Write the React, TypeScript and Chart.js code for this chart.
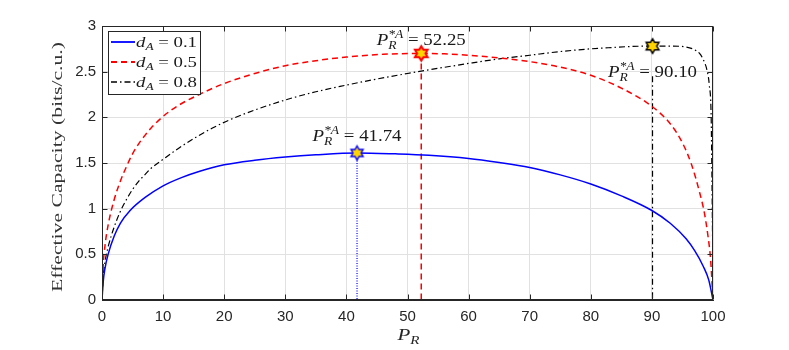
import React, { useEffect, useRef } from 'react';
import { Chart, registerables } from 'chart.js';

Chart.register(...registerables);

// ---------- data ----------
const blueX = [0, 0.2, 0.5, 1, 2, 3, 4.6, 7, 10, 13, 16, 20, 25, 30, 35, 41.74, 48, 53.5, 60, 65, 70, 75, 80, 85, 90, 93, 95.6, 97, 98.4, 99.3, 100];
const blueY = [0, 0.2, 0.35, 0.5, 0.7, 0.84, 0.98, 1.12, 1.25, 1.34, 1.41, 1.48, 1.53, 1.565, 1.59, 1.61, 1.6, 1.585, 1.55, 1.505, 1.45, 1.37, 1.27, 1.14, 0.98, 0.84, 0.67, 0.54, 0.37, 0.22, 0];

const redX = [0, 0.2, 0.5, 1, 2, 3, 4, 5, 6, 7, 8, 10, 12.5, 15.6, 20, 25, 30, 35, 40, 46, 52.25, 56, 60, 65, 70, 75, 80, 85, 90, 93, 95, 96.5, 97.8, 98.6, 99.2, 99.6, 100];
const redY = [0, 0.38, 0.6, 0.82, 1.1, 1.3, 1.46, 1.6, 1.71, 1.8, 1.88, 2.01, 2.13, 2.24, 2.37, 2.48, 2.565, 2.62, 2.66, 2.69, 2.7, 2.695, 2.68, 2.65, 2.61, 2.55, 2.46, 2.32, 2.12, 1.93, 1.72, 1.48, 1.18, 0.95, 0.69, 0.45, 0];

const blackX = [0, 0.2, 0.5, 1, 2, 3, 4, 5, 6, 7, 8, 10, 12.5, 15.6, 18, 20.8, 25, 30, 35, 39.8, 45, 50, 53.5, 60, 65, 70, 75, 80, 83.6, 86.3, 90.1, 93, 95.6, 97, 97.8, 98.5, 99, 99.4, 99.7, 99.85, 99.95, 100];
const blackY = [0, 0.25, 0.42, 0.58, 0.8, 0.97, 1.1, 1.21, 1.3, 1.37, 1.44, 1.54, 1.66, 1.79, 1.88, 1.97, 2.08, 2.19, 2.28, 2.35, 2.42, 2.48, 2.52, 2.59, 2.64, 2.68, 2.72, 2.75, 2.765, 2.775, 2.78, 2.78, 2.77, 2.74, 2.7, 2.62, 2.52, 2.35, 2.0, 1.2, 0.5, 0];

const legendValues = ['0.1', '0.5', '0.8'];
const peakX = [41.74, 52.25, 90.1];
const peakY = [1.61, 2.7, 2.78];
const blackStemTop = 2.45;

const xTitle = 'P';
const xTitleSub = 'R';
const yTitle = 'Effective Capacity (bits/c.u.)';

// ---------- styles ----------
const BLUE = '#0000ff';
const RED = '#ff0000';
const BLACK = '#000000';
const AXIS = '#262626';
const GRID = '#e1e1e1';
const STAR_FILL = '#ffd400';
const SERIF = '"Liberation Serif", "DejaVu Serif", serif';
const SANS = '"Liberation Sans", Arial, sans-serif';

const seriesStyles = [
  { color: BLUE, dash: [] as number[], width: 1.5 },
  { color: RED, dash: [6, 4], width: 1.5 },
  { color: BLACK, dash: [6, 3, 1.5, 3], width: 1.2 },
];

const pts = (xs: number[], ys: number[]) => xs.map((x, i) => ({ x, y: ys[i] }));

function makeStar(stroke: string, R: number, lw: number) {
  const size = Math.ceil(2 * R + 2 * lw + 2);
  const c = document.createElement('canvas');
  c.width = size;
  c.height = size;
  const g = c.getContext('2d')!;
  const cx = size / 2;
  const cy = size / 2;
  const r = R / Math.sqrt(3);
  g.beginPath();
  for (let k = 0; k < 12; k++) {
    const a = -Math.PI / 2 + (k * Math.PI) / 6;
    const rr = k % 2 === 0 ? R : r;
    g.lineTo(cx + rr * Math.cos(a), cy + rr * Math.sin(a));
  }
  g.closePath();
  g.fillStyle = STAR_FILL;
  g.fill();
  g.lineWidth = lw;
  g.strokeStyle = stroke;
  g.lineJoin = 'miter';
  g.stroke();
  return c;
}

type Seg = { t: string; italic?: boolean; size: number; dy: number; stack?: boolean };

function fontOf(s: Seg) {
  return `${s.italic ? 'italic ' : ''}${s.size}px ${SERIF}`;
}

function drawMath(ctx: CanvasRenderingContext2D, segs: Seg[], x: number, y: number, targetW: number, align: 'left' | 'center') {
  const placed: { s: Seg; x: number }[] = [];
  let cx = 0;
  for (let i = 0; i < segs.length; i++) {
    const s = segs[i];
    ctx.font = fontOf(s);
    let w = ctx.measureText(s.t).width;
    placed.push({ s, x: cx });
    const n = segs[i + 1];
    if (n && n.stack) {
      ctx.font = fontOf(n);
      w = Math.max(w, ctx.measureText(n.t).width);
      placed.push({ s: n, x: cx });
      i++;
    }
    cx += w;
  }
  const sx = targetW / cx;
  ctx.save();
  ctx.translate(align === 'center' ? x - targetW / 2 : x, y);
  ctx.scale(sx, 1);
  ctx.textAlign = 'left';
  ctx.textBaseline = 'alphabetic';
  for (const p of placed) {
    ctx.font = fontOf(p.s);
    ctx.fillText(p.s.t, p.x, p.s.dy);
  }
  ctx.restore();
}

const peakLabelOffsets = [-11.5, -8.5, 30.5];

const overlay = {
  id: 'overlay',
  afterDraw(chart: any) {
    const { ctx, chartArea: a, scales } = chart;
    const xs = scales.x;
    const ys = scales.y;
    ctx.save();

    // box
    ctx.strokeStyle = AXIS;
    ctx.lineWidth = 1;
    ctx.setLineDash([]);
    const L = Math.round(a.left) + 0.5;
    const T = Math.round(a.top) + 0.5;
    const Rr = Math.round(a.right) - 0.5;
    const B = Math.round(a.bottom) - 0.5;
    ctx.strokeRect(L, T, Rr - L, B - T);

    // inner ticks
    ctx.beginPath();
    for (const t of xs.ticks) {
      const px = Math.round(xs.getPixelForValue(t.value)) + 0.5;
      ctx.moveTo(px, B);
      ctx.lineTo(px, B - 5);
      ctx.moveTo(px, T);
      ctx.lineTo(px, T + 5);
    }
    for (const t of ys.ticks) {
      const py = Math.round(ys.getPixelForValue(t.value)) + 0.5;
      ctx.moveTo(L, py);
      ctx.lineTo(L + 5, py);
      ctx.moveTo(Rr, py);
      ctx.lineTo(Rr - 5, py);
    }
    ctx.stroke();

    // peak labels
    ctx.fillStyle = '#1a1a1a';
    for (let i = 0; i < peakX.length; i++) {
      const px = xs.getPixelForValue(peakX[i]);
      const py = ys.getPixelForValue(peakY[i]) + peakLabelOffsets[i];
      drawMath(
        ctx,
        [
          { t: 'P', italic: true, size: 16, dy: 0 },
          { t: '*A', italic: true, size: 11.5, dy: -7 },
          { t: 'R', italic: true, size: 11.5, dy: 4, stack: true },
          { t: ' = ' + peakX[i].toFixed(2), size: 16, dy: 0 },
        ],
        px,
        py,
        89,
        'center'
      );
    }

    // legend
    const lx = 108.5;
    const ly = 31.5;
    ctx.fillStyle = '#fff';
    ctx.fillRect(lx, ly, 92, 63);
    ctx.strokeStyle = AXIS;
    ctx.lineWidth = 1;
    ctx.setLineDash([]);
    ctx.strokeRect(lx, ly, 92, 63);
    for (let i = 0; i < legendValues.length; i++) {
      const st = seriesStyles[i];
      const cy = 42 + i * 20;
      ctx.beginPath();
      ctx.strokeStyle = st.color;
      ctx.lineWidth = st.width + 0.3;
      ctx.setLineDash(st.dash);
      ctx.moveTo(111, cy);
      ctx.lineTo(135, cy);
      ctx.stroke();
      ctx.setLineDash([]);
      ctx.fillStyle = '#1a1a1a';
      drawMath(
        ctx,
        [
          { t: 'd', italic: true, size: 15.5, dy: 0 },
          { t: 'A', italic: true, size: 11, dy: 3.5 },
          { t: ' = ' + legendValues[i], size: 15.5, dy: 0 },
        ],
        136,
        cy + 4.7,
        61,
        'left'
      );
    }

    // axis titles
    ctx.fillStyle = AXIS;
    drawMath(
      ctx,
      [
        { t: xTitle, italic: true, size: 16, dy: 0 },
        { t: xTitleSub, italic: true, size: 11.5, dy: 4 },
      ],
      (a.left + a.right) / 2 + 1,
      340,
      22,
      'center'
    );

    ctx.save();
    ctx.fillStyle = '#333';
    ctx.translate(62, (a.top + a.bottom) / 2 + 4);
    ctx.rotate(-Math.PI / 2);
    ctx.font = `15.5px ${SERIF}`;
    const w = ctx.measureText(yTitle).width;
    const target = 250;
    ctx.scale(target / w, 1);
    ctx.textAlign = 'center';
    ctx.textBaseline = 'alphabetic';
    ctx.fillText(yTitle, 0, 0);
    ctx.restore();

    ctx.restore();
  },
};

export default function App() {
  const ref = useRef<HTMLCanvasElement>(null);

  useEffect(() => {
    const canvas = ref.current!;
    const stars = [makeStar(BLUE, 7, 1.4), makeStar(RED, 7.3, 2), makeStar(BLACK, 7.3, 1.5)];

    const curveSets = [pts(blueX, blueY), pts(redX, redY), pts(blackX, blackY)].map((data, i) => ({
      data,
      showLine: true,
      borderColor: seriesStyles[i].color,
      borderWidth: seriesStyles[i].width,
      borderDash: seriesStyles[i].dash,
      pointRadius: 0,
      fill: false,
      cubicInterpolationMode: 'monotone' as const,
      order: 1,
    }));

    const stemTops = [peakY[0], peakY[1], blackStemTop];
    const stemDash = [[1, 1.5], [6, 4], [6, 3, 1.5, 3]];
    const stemWidth = [1.2, 1.5, 1.2];
    const stemSets = peakX.map((px, i) => ({
      data: [
        { x: px, y: stemTops[i] },
        { x: px, y: 0 },
      ],
      showLine: true,
      borderColor: seriesStyles[i].color,
      borderWidth: stemWidth[i],
      borderDash: stemDash[i],
      pointRadius: 0,
      tension: 0,
      fill: false,
      order: 2,
    }));

    const starSets = peakX.map((px, i) => ({
      data: [{ x: px, y: peakY[i] }],
      showLine: false,
      pointStyle: stars[i],
      pointRadius: 8,
      borderWidth: 0,
      clip: false as const,
      order: 0,
    }));

    const chart = new Chart(canvas, {
      type: 'scatter',
      data: { datasets: [...curveSets, ...stemSets, ...starSets] as any },
      options: {
        animation: false,
        responsive: false,
        maintainAspectRatio: false,
        events: [],
        layout: { padding: { top: 26, right: 76, left: 0, bottom: 0 } },
        plugins: { legend: { display: false }, tooltip: { enabled: false } },
        scales: {
          x: {
            type: 'linear',
            min: 0,
            max: 100,
            ticks: {
              stepSize: 10,
              autoSkip: false,
              maxRotation: 0,
              color: AXIS,
              padding: 8,
              font: { family: SANS, size: 15 },
            },
            grid: { color: GRID, drawTicks: false, lineWidth: 1 },
            border: { display: true, color: AXIS },
            afterFit: (s: any) => {
              s.height = 50;
            },
          },
          y: {
            type: 'linear',
            min: 0,
            max: 3,
            ticks: {
              stepSize: 0.5,
              autoSkip: false,
              color: AXIS,
              padding: 6,
              font: { family: SANS, size: 15 },
              callback: (v: any) => String(Number(v)),
            },
            grid: { color: GRID, drawTicks: false, lineWidth: 1 },
            border: { display: true, color: AXIS },
            afterFit: (s: any) => {
              s.width = 102;
            },
          },
        },
      },
      plugins: [overlay],
    });
    return () => chart.destroy();
  }, []);

  return (
    <div style={{ position: 'absolute', left: 0, top: 0, width: 789, height: 350, background: '#fff' }}>
      <canvas ref={ref} width={789} height={350} style={{ display: 'block' }} />
    </div>
  );
}
